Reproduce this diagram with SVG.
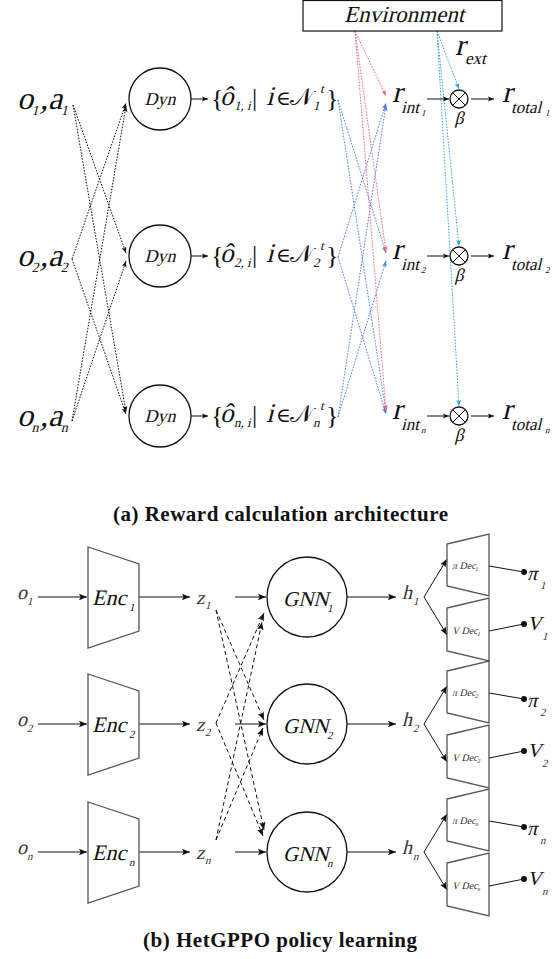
<svg xmlns="http://www.w3.org/2000/svg" width="559" height="959" viewBox="0 0 559 959">
<style>
.m{font-family:"Liberation Serif","Times New Roman",serif;fill:#111}
.u{font-family:"Liberation Serif","DejaVu Serif",serif;fill:#111}
.g{font-family:"Liberation Serif","Times New Roman",serif;fill:#333}
.cap{font-family:"Liberation Serif","Times New Roman",serif;font-weight:bold;fill:#111;font-size:21px}
.node{fill:#fff;stroke:#111;stroke-width:1.3}
.trap{fill:#fff;stroke:#555;stroke-width:1.3}
.ln{stroke:#111;stroke-width:1;fill:none}
.dot{stroke:#111;stroke-width:1;fill:none;stroke-dasharray:1.6 1.4}
.red{stroke:#f26a7c;stroke-width:1;fill:none;stroke-dasharray:1.6 1.4}
.blu{stroke:#4a80f2;stroke-width:1;fill:none;stroke-dasharray:1.6 1.4}
.sky{stroke:#39a2ee;stroke-width:1;fill:none;stroke-dasharray:1.6 1.4}
.dash{stroke:#111;stroke-width:1;fill:none;stroke-dasharray:4 3}
</style>
<defs>
<marker id="ak" viewBox="0 0 10 10" refX="10" refY="5" markerWidth="6" markerHeight="6" orient="auto" markerUnits="userSpaceOnUse"><path d="M0,1 L10,5 L0,9 L2,5 z" fill="#111"/></marker>
<marker id="ab" viewBox="0 0 10 10" refX="10" refY="5" markerWidth="8" markerHeight="8" orient="auto" markerUnits="userSpaceOnUse"><path d="M0,1 L10,5 L0,9 L2,5 z" fill="#111"/></marker>
<marker id="ar" viewBox="0 0 10 10" refX="10" refY="5" markerWidth="6" markerHeight="6" orient="auto" markerUnits="userSpaceOnUse"><path d="M0,1 L10,5 L0,9 L2,5 z" fill="#f26a7c"/></marker>
<marker id="ablu" viewBox="0 0 10 10" refX="10" refY="5" markerWidth="6" markerHeight="6" orient="auto" markerUnits="userSpaceOnUse"><path d="M0,1 L10,5 L0,9 L2,5 z" fill="#4a80f2"/></marker>
<marker id="asky" viewBox="0 0 10 10" refX="10" refY="5" markerWidth="6" markerHeight="6" orient="auto" markerUnits="userSpaceOnUse"><path d="M0,1 L10,5 L0,9 L2,5 z" fill="#39a2ee"/></marker>
<marker id="dt" viewBox="0 0 10 10" refX="5" refY="5" markerWidth="6" markerHeight="6" markerUnits="userSpaceOnUse"><circle cx="5" cy="5" r="5" fill="#111"/></marker>
</defs>
<rect width="559" height="959" fill="#fff"/>

<g id="connectors">
  <line class="dot" x1="73" y1="105" x2="126" y2="253" marker-end="url(#ak)"/>
  <line class="dot" x1="73" y1="105" x2="126" y2="412" marker-end="url(#ak)"/>
  <line class="dot" x1="72" y1="259" x2="126" y2="103" marker-end="url(#ak)"/>
  <line class="dot" x1="72" y1="259" x2="126" y2="414" marker-end="url(#ak)"/>
  <line class="dot" x1="72" y1="421" x2="126" y2="106" marker-end="url(#ak)"/>
  <line class="dot" x1="72" y1="421" x2="126" y2="261" marker-end="url(#ak)"/>
  <line class="ln" x1="191" y1="99" x2="208" y2="99" marker-end="url(#ak)"/>
  <line class="ln" x1="191" y1="256" x2="208" y2="256" marker-end="url(#ak)"/>
  <line class="ln" x1="191" y1="416" x2="208" y2="416" marker-end="url(#ak)"/>
  <line class="blu" x1="338" y1="100" x2="386" y2="253" marker-end="url(#ablu)"/>
  <line class="blu" x1="338" y1="100" x2="386" y2="412" marker-end="url(#ablu)"/>
  <line class="blu" x1="338" y1="257" x2="386" y2="103" marker-end="url(#ablu)"/>
  <line class="blu" x1="338" y1="257" x2="386" y2="414" marker-end="url(#ablu)"/>
  <line class="blu" x1="338" y1="417" x2="386" y2="105" marker-end="url(#ablu)"/>
  <line class="blu" x1="338" y1="417" x2="386" y2="261" marker-end="url(#ablu)"/>
  <line class="red" x1="355" y1="31" x2="386" y2="96" marker-end="url(#ar)"/>
  <line class="red" x1="355" y1="31" x2="386" y2="252" marker-end="url(#ar)"/>
  <line class="red" x1="355" y1="31" x2="386" y2="411" marker-end="url(#ar)"/>
  <line class="sky" x1="437" y1="31" x2="459" y2="89" marker-end="url(#asky)"/>
  <line class="sky" x1="437" y1="31" x2="459" y2="246" marker-end="url(#asky)"/>
  <line class="sky" x1="437" y1="31" x2="459" y2="406" marker-end="url(#asky)"/>
  <line class="ln" x1="427" y1="99" x2="449" y2="99" marker-end="url(#ak)"/>
  <line class="ln" x1="427" y1="256" x2="449" y2="256" marker-end="url(#ak)"/>
  <line class="ln" x1="427" y1="416" x2="449" y2="416" marker-end="url(#ak)"/>
  <line class="ln" x1="471" y1="99" x2="494" y2="99" marker-end="url(#ak)"/>
  <line class="ln" x1="471" y1="256" x2="494" y2="256" marker-end="url(#ak)"/>
  <line class="ln" x1="471" y1="416" x2="494" y2="416" marker-end="url(#ak)"/>

  <line class="ln" x1="38" y1="597" x2="87" y2="597" marker-end="url(#ab)"/>
  <line class="ln" x1="38" y1="724" x2="87" y2="724" marker-end="url(#ab)"/>
  <line class="ln" x1="38" y1="852" x2="87" y2="852" marker-end="url(#ab)"/>
  <line class="ln" x1="139" y1="597" x2="190" y2="597" marker-end="url(#ab)"/>
  <line class="ln" x1="139" y1="724" x2="190" y2="724" marker-end="url(#ab)"/>
  <line class="ln" x1="139" y1="852" x2="190" y2="852" marker-end="url(#ab)"/>
  <line class="ln" x1="235" y1="597" x2="266" y2="597" marker-end="url(#ab)"/>
  <line class="ln" x1="235" y1="724" x2="266" y2="724" marker-end="url(#ab)"/>
  <line class="ln" x1="235" y1="852" x2="266" y2="852" marker-end="url(#ab)"/>
  <line class="ln" x1="347" y1="597" x2="396" y2="597" marker-end="url(#ab)"/>
  <line class="ln" x1="347" y1="724" x2="396" y2="724" marker-end="url(#ab)"/>
  <line class="ln" x1="347" y1="852" x2="396" y2="852" marker-end="url(#ab)"/>
  <line class="dash" x1="216" y1="610" x2="264" y2="720" marker-end="url(#ab)"/>
  <line class="dash" x1="216" y1="610" x2="264" y2="830" marker-end="url(#ab)"/>
  <line class="dash" x1="216" y1="723" x2="264" y2="613" marker-end="url(#ab)"/>
  <line class="dash" x1="216" y1="723" x2="263" y2="836" marker-end="url(#ab)"/>
  <line class="dash" x1="216" y1="840" x2="262" y2="622" marker-end="url(#ab)"/>
  <line class="dash" x1="216" y1="840" x2="263" y2="728" marker-end="url(#ab)"/>
  <line class="ln" x1="424" y1="597" x2="447" y2="559" marker-end="url(#ab)"/>
  <line class="ln" x1="424" y1="597" x2="447" y2="635" marker-end="url(#ab)"/>
  <line class="ln" x1="424" y1="724" x2="447" y2="686" marker-end="url(#ab)"/>
  <line class="ln" x1="424" y1="724" x2="447" y2="762" marker-end="url(#ab)"/>
  <line class="ln" x1="424" y1="852" x2="447" y2="814" marker-end="url(#ab)"/>
  <line class="ln" x1="424" y1="852" x2="447" y2="890" marker-end="url(#ab)"/>
  <line class="ln" x1="489" y1="566" x2="524" y2="572" marker-end="url(#dt)"/>
  <line class="ln" x1="489" y1="631" x2="524" y2="624" marker-end="url(#dt)"/>
  <line class="ln" x1="489" y1="693" x2="524" y2="699" marker-end="url(#dt)"/>
  <line class="ln" x1="489" y1="758" x2="524" y2="751" marker-end="url(#dt)"/>
  <line class="ln" x1="489" y1="821" x2="524" y2="827" marker-end="url(#dt)"/>
  <line class="ln" x1="489" y1="886" x2="524" y2="879" marker-end="url(#dt)"/>
</g>

<g id="env">
  <rect x="303" y="0.5" width="199" height="30.5" fill="#fff" stroke="#111" stroke-width="1.2"/>
  <text class="m" transform="translate(404 22) skewX(-14)" font-size="23" text-anchor="middle">Environment</text>
</g>
<g id="rext">
  <text class="m" transform="translate(455 55) skewX(-14)" font-size="30">r</text>
  <text class="m" transform="translate(465 64) skewX(-14)" font-size="17">ext</text>
</g>

<g id="oa1"><text class="m" transform="translate(17 109) skewX(-14)" font-size="32">o<tspan font-size="14" dy="6">1</tspan><tspan dy="-6">,a</tspan><tspan font-size="14" dy="6">1</tspan></text></g>
<g id="oa2"><text class="m" transform="translate(17 266) skewX(-14)" font-size="32">o<tspan font-size="14" dy="6">2</tspan><tspan dy="-6">,a</tspan><tspan font-size="14" dy="6">2</tspan></text></g>
<g id="oan"><text class="m" transform="translate(17 426) skewX(-14)" font-size="32">o<tspan font-size="14" dy="6">n</tspan><tspan dy="-6">,a</tspan><tspan font-size="14" dy="6">n</tspan></text></g>

<g id="dyn1"><circle class="node" cx="160" cy="99" r="31"/><text class="m" transform="translate(160 105) skewX(-14)" font-size="18" text-anchor="middle">Dyn</text></g>
<g id="dyn2"><circle class="node" cx="160" cy="256" r="31"/><text class="m" transform="translate(160 262) skewX(-14)" font-size="18" text-anchor="middle">Dyn</text></g>
<g id="dyn3"><circle class="node" cx="160" cy="416" r="31"/><text class="m" transform="translate(160 422) skewX(-14)" font-size="18" text-anchor="middle">Dyn</text></g>

<g id="set1">
  <text class="u" x="211" y="107" font-size="26">{</text>
  <text class="m" transform="translate(220 105) skewX(-14)" font-size="27">ô</text>
  <text class="m" transform="translate(234 110) skewX(-14)" font-size="13">1, i</text>
  <text class="u" x="252" y="106" font-size="26">|</text>
  <text class="m" transform="translate(266 105) skewX(-14)" font-size="27">i</text>
  <text class="u" x="276" y="105" font-size="20">∈</text>
  <text class="u" x="290" y="105" font-size="24">𝒩</text>
  <text class="m" transform="translate(320 93) skewX(-14)" font-size="13">t</text>
  <text class="m" transform="translate(313 110) skewX(-14)" font-size="13">1</text>
  <text class="u" x="326" y="107" font-size="26">}</text>
</g>
<g id="set2">
  <text class="u" x="211" y="264" font-size="26">{</text>
  <text class="m" transform="translate(220 262) skewX(-14)" font-size="27">ô</text>
  <text class="m" transform="translate(234 267) skewX(-14)" font-size="13">2, i</text>
  <text class="u" x="252" y="263" font-size="26">|</text>
  <text class="m" transform="translate(266 262) skewX(-14)" font-size="27">i</text>
  <text class="u" x="276" y="262" font-size="20">∈</text>
  <text class="u" x="290" y="262" font-size="24">𝒩</text>
  <text class="m" transform="translate(320 250) skewX(-14)" font-size="13">t</text>
  <text class="m" transform="translate(313 267) skewX(-14)" font-size="13">2</text>
  <text class="u" x="326" y="264" font-size="26">}</text>
</g>
<g id="setn">
  <text class="u" x="211" y="424" font-size="26">{</text>
  <text class="m" transform="translate(220 422) skewX(-14)" font-size="27">ô</text>
  <text class="m" transform="translate(234 427) skewX(-14)" font-size="13">n, i</text>
  <text class="u" x="252" y="423" font-size="26">|</text>
  <text class="m" transform="translate(266 422) skewX(-14)" font-size="27">i</text>
  <text class="u" x="276" y="422" font-size="20">∈</text>
  <text class="u" x="290" y="422" font-size="24">𝒩</text>
  <text class="m" transform="translate(320 410) skewX(-14)" font-size="13">t</text>
  <text class="m" transform="translate(313 427) skewX(-14)" font-size="13">n</text>
  <text class="u" x="326" y="424" font-size="26">}</text>
</g>

<g id="rint1"><text class="m" transform="translate(392 102) skewX(-14)" font-size="30">r</text><text class="m" transform="translate(401 113) skewX(-14)" font-size="17">int</text><text class="m" transform="translate(421 116) skewX(-14)" font-size="9">1</text></g>
<g id="rint2"><text class="m" transform="translate(392 259) skewX(-14)" font-size="30">r</text><text class="m" transform="translate(401 270) skewX(-14)" font-size="17">int</text><text class="m" transform="translate(421 273) skewX(-14)" font-size="9">2</text></g>
<g id="rintn"><text class="m" transform="translate(392 419) skewX(-14)" font-size="30">r</text><text class="m" transform="translate(401 430) skewX(-14)" font-size="17">int</text><text class="m" transform="translate(421 433) skewX(-14)" font-size="9">n</text></g>

<g id="otimes1"><circle class="node" cx="459" cy="99" r="9"/><path class="ln" d="M452.6,92.6 L465.4,105.4 M465.4,92.6 L452.6,105.4"/><text class="m" transform="translate(459 124) skewX(-14)" font-size="18" text-anchor="middle">β</text></g>
<g id="otimes2"><circle class="node" cx="459" cy="256" r="9"/><path class="ln" d="M452.6,249.6 L465.4,262.4 M465.4,249.6 L452.6,262.4"/><text class="m" transform="translate(459 281) skewX(-14)" font-size="18" text-anchor="middle">β</text></g>
<g id="otimesn"><circle class="node" cx="459" cy="416" r="9"/><path class="ln" d="M452.6,409.6 L465.4,422.4 M465.4,409.6 L452.6,422.4"/><text class="m" transform="translate(459 441) skewX(-14)" font-size="18" text-anchor="middle">β</text></g>

<g id="rtot1"><text class="m" transform="translate(502 102) skewX(-14)" font-size="30">r</text><text class="m" transform="translate(511 113) skewX(-14)" font-size="17">total</text><text class="m" transform="translate(545 116) skewX(-14)" font-size="9">1</text></g>
<g id="rtot2"><text class="m" transform="translate(502 259) skewX(-14)" font-size="30">r</text><text class="m" transform="translate(511 270) skewX(-14)" font-size="17">total</text><text class="m" transform="translate(545 273) skewX(-14)" font-size="9">2</text></g>
<g id="rtotn"><text class="m" transform="translate(502 419) skewX(-14)" font-size="30">r</text><text class="m" transform="translate(511 430) skewX(-14)" font-size="17">total</text><text class="m" transform="translate(545 433) skewX(-14)" font-size="9">n</text></g>

<text class="cap" x="113" y="521" textLength="335" lengthAdjust="spacing">(a) Reward calculation architecture</text>

<g id="o1"><text class="g" transform="translate(17 599) skewX(-14)" font-size="20">o</text><text class="g" transform="translate(27 605) skewX(-14)" font-size="11">1</text></g>
<g id="o2"><text class="g" transform="translate(17 726) skewX(-14)" font-size="20">o</text><text class="g" transform="translate(27 732) skewX(-14)" font-size="11">2</text></g>
<g id="on"><text class="g" transform="translate(17 854) skewX(-14)" font-size="20">o</text><text class="g" transform="translate(27 860) skewX(-14)" font-size="11">n</text></g>

<g id="enc1"><polygon class="trap" points="88,547 139,564 139,631 88,648"/><text class="m" transform="translate(92 605) skewX(-14)" font-size="22">Enc</text><text class="m" transform="translate(129 611) skewX(-14)" font-size="11">1</text></g>
<g id="enc2"><polygon class="trap" points="88,674 139,691 139,758 88,775"/><text class="m" transform="translate(92 732) skewX(-14)" font-size="22">Enc</text><text class="m" transform="translate(129 738) skewX(-14)" font-size="11">2</text></g>
<g id="encn"><polygon class="trap" points="88,802 139,819 139,886 88,903"/><text class="m" transform="translate(92 860) skewX(-14)" font-size="22">Enc</text><text class="m" transform="translate(129 866) skewX(-14)" font-size="11">n</text></g>

<g id="z1"><text class="g" transform="translate(196 604) skewX(-14)" font-size="19">z</text><text class="g" transform="translate(205 609) skewX(-14)" font-size="11">1</text></g>
<g id="z2"><text class="g" transform="translate(196 731) skewX(-14)" font-size="19">z</text><text class="g" transform="translate(205 736) skewX(-14)" font-size="11">2</text></g>
<g id="zn"><text class="g" transform="translate(196 859) skewX(-14)" font-size="19">z</text><text class="g" transform="translate(205 864) skewX(-14)" font-size="11">n</text></g>

<g id="gnn1"><circle class="node" cx="307" cy="597" r="40"/><text class="m" transform="translate(283 606) skewX(-14)" font-size="21">GNN</text><text class="m" transform="translate(327 612) skewX(-14)" font-size="11">1</text></g>
<g id="gnn2"><circle class="node" cx="307" cy="724" r="40"/><text class="m" transform="translate(283 733) skewX(-14)" font-size="21">GNN</text><text class="m" transform="translate(327 739) skewX(-14)" font-size="11">2</text></g>
<g id="gnnn"><circle class="node" cx="307" cy="852" r="40"/><text class="m" transform="translate(283 861) skewX(-14)" font-size="21">GNN</text><text class="m" transform="translate(327 867) skewX(-14)" font-size="11">n</text></g>

<g id="h1"><text class="g" transform="translate(402 599) skewX(-14)" font-size="20">h</text><text class="g" transform="translate(413 605) skewX(-14)" font-size="11">1</text></g>
<g id="h2"><text class="g" transform="translate(402 726) skewX(-14)" font-size="20">h</text><text class="g" transform="translate(413 732) skewX(-14)" font-size="11">2</text></g>
<g id="hn"><text class="g" transform="translate(402 854) skewX(-14)" font-size="20">h</text><text class="g" transform="translate(413 860) skewX(-14)" font-size="11">n</text></g>

<g id="pdec1"><polygon class="trap" points="447,544 489,534 489,596 447,586"/><text class="g" transform="translate(452 569) skewX(-14)" font-size="10">π Dec<tspan font-size="6" dy="2">1</tspan></text></g>
<g id="vdec1"><polygon class="trap" points="447,608 489,598 489,661 447,651"/><text class="g" transform="translate(452 634) skewX(-14)" font-size="10">V Dec<tspan font-size="6" dy="2">1</tspan></text></g>
<g id="pdec2"><polygon class="trap" points="447,671 489,661 489,723 447,713"/><text class="g" transform="translate(452 696) skewX(-14)" font-size="10">π Dec<tspan font-size="6" dy="2">2</tspan></text></g>
<g id="vdec2"><polygon class="trap" points="447,735 489,725 489,788 447,778"/><text class="g" transform="translate(452 761) skewX(-14)" font-size="10">V Dec<tspan font-size="6" dy="2">2</tspan></text></g>
<g id="pdecn"><polygon class="trap" points="447,799 489,789 489,851 447,841"/><text class="g" transform="translate(452 824) skewX(-14)" font-size="10">π Dec<tspan font-size="6" dy="2">n</tspan></text></g>
<g id="vdecn"><polygon class="trap" points="447,863 489,853 489,916 447,906"/><text class="g" transform="translate(452 889) skewX(-14)" font-size="10">V Dec<tspan font-size="6" dy="2">n</tspan></text></g>

<g id="pi1"><text class="m" transform="translate(527 580) skewX(-14)" font-size="20">π</text><text class="g" transform="translate(540 589) skewX(-14)" font-size="11">1</text></g>
<g id="v1"><text class="m" transform="translate(527 630) skewX(-14)" font-size="20">V</text><text class="g" transform="translate(542 640) skewX(-14)" font-size="11">1</text></g>
<g id="pi2"><text class="m" transform="translate(527 707) skewX(-14)" font-size="20">π</text><text class="g" transform="translate(540 716) skewX(-14)" font-size="11">2</text></g>
<g id="v2"><text class="m" transform="translate(527 757) skewX(-14)" font-size="20">V</text><text class="g" transform="translate(542 767) skewX(-14)" font-size="11">2</text></g>
<g id="pin"><text class="m" transform="translate(527 835) skewX(-14)" font-size="20">π</text><text class="g" transform="translate(540 844) skewX(-14)" font-size="11">n</text></g>
<g id="vn"><text class="m" transform="translate(527 885) skewX(-14)" font-size="20">V</text><text class="g" transform="translate(542 895) skewX(-14)" font-size="11">n</text></g>

<text class="cap" x="143" y="947" textLength="274" lengthAdjust="spacing">(b) HetGPPO policy learning</text>
</svg>
